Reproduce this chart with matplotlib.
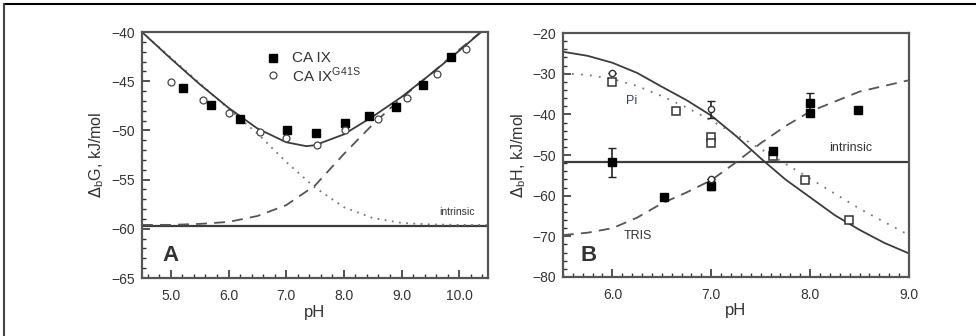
import numpy as np
import matplotlib
matplotlib.use("Agg")
from matplotlib import pyplot as plt
from matplotlib.ticker import MultipleLocator, FormatStrFormatter

plt.rcParams['font.family'] = ['Liberation Sans', 'DejaVu Sans']

## Panel A data (dG vs pH)
a_sq_x = [5.21, 5.70, 6.20, 7.02, 7.52, 8.02, 8.43, 8.90, 9.38, 9.85]
a_sq_y = [-45.7, -47.45, -48.8, -49.95, -50.3, -49.2, -48.5, -47.6, -45.4, -42.5]
a_ci_x = [5.00, 5.55, 6.00, 6.55, 7.00, 7.53, 8.02, 8.59, 9.10, 9.62, 10.11]
a_ci_y = [-45.05, -46.9, -48.2, -50.2, -50.8, -51.5, -50.0, -48.8, -46.7, -44.3, -41.7]

a_fit_x = [4.5, 5.0, 5.5, 6.0, 6.5, 7.0, 7.35, 7.5, 8.0, 8.5, 9.0, 9.5, 10.0, 10.5]
a_fit_y = [-40.0, -42.7, -45.3, -47.7, -49.8, -51.2, -51.6, -51.5, -50.4, -48.6, -46.6, -44.3, -41.9, -39.4]
a_dot_x = [4.5, 5.0, 5.5, 6.0, 6.5, 7.0, 7.5, 8.0, 8.5, 9.0, 9.5, 10.0, 10.5]
a_dot_y = [-40.0, -42.6, -45.2, -47.8, -50.3, -53.2, -55.8, -57.8, -58.9, -59.4, -59.55, -59.6, -59.6]
a_dash_x = [4.5, 5.0, 5.5, 6.0, 6.5, 7.0, 7.5, 8.0, 8.5, 9.0, 9.5, 10.0, 10.5]
a_dash_y = [-59.6, -59.6, -59.5, -59.3, -58.7, -57.6, -55.6, -52.4, -49.4, -46.7, -44.3, -41.8, -39.4]
a_intr = -59.7

## Panel B data (dH vs pH)
b_fill_x = [6.00, 6.52, 7.00, 7.62, 8.00, 8.00, 8.48]
b_fill_y = [-51.8, -60.4, -57.5, -49.0, -37.3, -39.7, -38.9]
b_fill_e = [3.5, 0.0, 1.2, 0.0, 2.5, 0.0, 0.0]
b_open_x = [6.00, 6.64, 7.00, 7.00, 7.62, 7.95, 8.39]
b_open_y = [-32.0, -39.2, -45.6, -47.0, -50.3, -56.1, -66.0]
b_circ_x = [6.00, 7.00, 7.00]
b_circ_y = [-29.8, -38.8, -56.0]
b_circ_e = [0.0, 2.0, 0.0]

b_fit_x = [5.5, 5.75, 6.0, 6.25, 6.5, 6.75, 7.0, 7.25, 7.5, 7.75, 8.0, 8.25, 8.5, 8.75, 9.0]
b_fit_y = [-24.6, -25.6, -27.3, -29.8, -33.2, -36.5, -40.3, -45.3, -50.8, -56.0, -60.4, -64.8, -68.4, -71.6, -74.2]
b_pi_x = [5.5, 5.75, 6.0, 6.25, 6.5, 6.75, 7.0, 7.5, 8.0, 8.5, 9.0]
b_pi_y = [-29.9, -30.3, -31.3, -33.0, -35.5, -38.3, -41.5, -48.5, -55.8, -63.2, -69.7]
b_tris_x = [5.5, 5.75, 6.0, 6.25, 6.5, 6.75, 7.0, 7.25, 7.5, 7.75, 8.0, 8.5, 9.0]
b_tris_y = [-69.7, -69.1, -68.0, -65.4, -61.9, -59.2, -56.2, -51.8, -47.1, -42.9, -39.3, -34.4, -31.6]
b_intr = -51.8

lc = "#3c3c3c"
fig = plt.figure(figsize=(9.76, 3.36), dpi=100)

# outer frame (top and left only visible)
fig.add_artist(plt.Line2D([0.004, 1.0], [0.988, 0.988], color="black", lw=1.5))
fig.add_artist(plt.Line2D([0.004, 0.004], [0.0, 0.988], color="#444444", lw=1.5))


def style_axes(ax):
    for s in ax.spines.values():
        s.set_color("#555555")
        s.set_linewidth(1.6)
    ax.tick_params(which="both", direction="in", top=False, right=False,
                   color="#333333", labelsize=10, labelcolor="#333333")
    ax.tick_params(axis="x", pad=8)
    ax.tick_params(axis="y", pad=5)
    ax.tick_params(which="major", length=6, width=1.2)
    ax.tick_params(which="minor", length=3, width=1.0)


# Panel A
axA = fig.add_axes([0.1455, 0.1726, 0.3545, 0.732])
axA.axhline(a_intr, color=lc, lw=1.6)
axA.plot(a_dot_x, a_dot_y, color="#777777", lw=1.3, ls=(0, (1, 3)))
axA.plot(a_dash_x, a_dash_y, color="#555555", lw=1.3, ls=(0, (6, 4)))
axA.plot(a_fit_x, a_fit_y, color=lc, lw=1.3)
axA.plot(a_sq_x, a_sq_y, 's', color="black", ms=6)
axA.plot(a_ci_x, a_ci_y, 'o', mfc="white", mec="#444444", ms=5, mew=0.9)
axA.set_xlim(4.5, 10.5)
axA.set_ylim(-65, -40)
axA.xaxis.set_major_locator(MultipleLocator(1.0))
axA.xaxis.set_major_formatter(FormatStrFormatter("%.1f"))
axA.xaxis.set_minor_locator(MultipleLocator(0.2))
axA.yaxis.set_major_locator(MultipleLocator(5))
axA.yaxis.set_minor_locator(MultipleLocator(1))
style_axes(axA)
axA.set_xlabel("pH", fontsize=12, color="#333333", labelpad=1)
axA.set_ylabel(r"$\Delta_\mathregular{b}$G, kJ/mol", fontsize=11.5, color="#333333", labelpad=4)
axA.text(9.96, -58.3, "intrinsic", fontsize=7.5, color="#333333", ha="center", va="center")
axA.text(5.0, -62.7, "A", fontsize=16, fontweight="bold", color="#333333", ha="center", va="center")
# legend
axA.plot([6.78], [-42.6], 's', color="black", ms=6)
axA.plot([6.78], [-44.4], 'o', mfc="white", mec="#444444", ms=5, mew=0.9)
axA.text(7.1, -42.6, "CA IX", fontsize=11, color="#333333", va="center")
axA.text(7.1, -44.4, r"CA IX$^\mathregular{G41S}$", fontsize=11, color="#333333", va="center")

# Panel B
axB = fig.add_axes([0.5768, 0.1756, 0.3545, 0.726])
axB.axhline(b_intr, color=lc, lw=1.6)
axB.plot(b_pi_x, b_pi_y, color="#777777", lw=1.3, ls=(0, (1, 4)))
axB.plot(b_tris_x, b_tris_y, color="#555555", lw=1.3, ls=(0, (6, 4)))
axB.plot(b_fit_x, b_fit_y, color=lc, lw=1.3)
axB.errorbar(b_fill_x, b_fill_y, yerr=b_fill_e, fmt='s', color="black", ms=5.5,
             ecolor="#222222", elinewidth=1.2, capsize=3)
axB.plot(b_open_x, b_open_y, 's', mfc="white", mec="#333333", ms=5.5, mew=1.1)
axB.errorbar(b_circ_x, b_circ_y, yerr=b_circ_e, fmt='o', mfc="white", mec="#333333",
             ms=4.5, mew=1, ecolor="#222222", elinewidth=1.2, capsize=3)
axB.set_xlim(5.5, 9.0)
axB.set_ylim(-80, -20)
axB.xaxis.set_major_locator(MultipleLocator(1.0))
axB.xaxis.set_major_formatter(FormatStrFormatter("%.1f"))
axB.xaxis.set_minor_locator(MultipleLocator(0.1))
axB.yaxis.set_major_locator(MultipleLocator(10))
axB.yaxis.set_minor_locator(MultipleLocator(2))
style_axes(axB)
axB.set_xlabel("pH", fontsize=12, color="#333333", labelpad=1)
axB.set_ylabel(r"$\Delta_\mathregular{b}$H, kJ/mol", fontsize=11.5, color="#333333", labelpad=3)
axB.text(8.41, -48.2, "intrinsic", fontsize=9, color="#333333", ha="center", va="center")
axB.text(6.19, -36.7, "Pi", fontsize=9, color="#334466", ha="center", va="center")
axB.text(6.26, -69.9, "TRIS", fontsize=9, color="#333333", ha="center", va="center")
axB.text(5.76, -74.6, "B", fontsize=16, fontweight="bold", color="#333333", ha="center", va="center")

fig.savefig("out.png", dpi=100)
